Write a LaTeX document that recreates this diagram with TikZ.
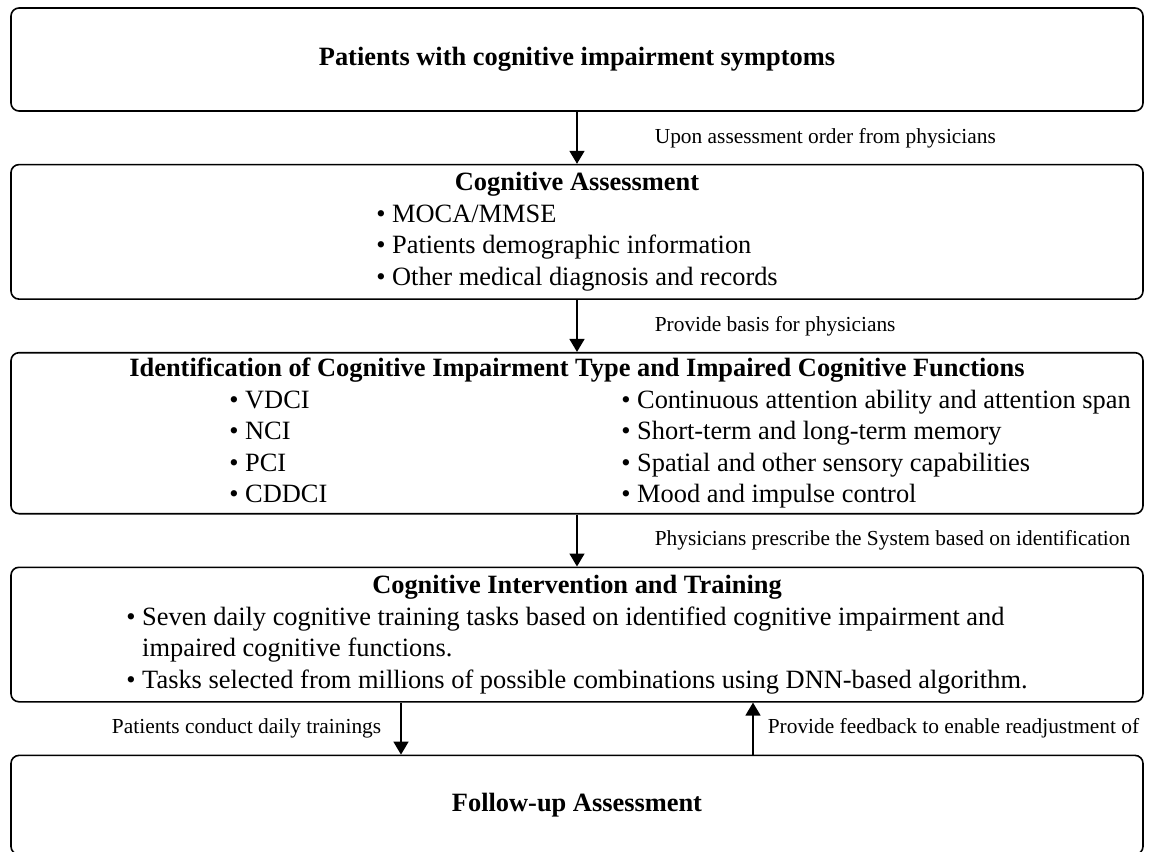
\documentclass[tikz,border=0pt]{standalone}
\usepackage{fontspec}
\setmainfont{Liberation Serif}
\usepackage{tikz}
\usetikzlibrary{shapes, arrows.meta, positioning}
\tikzstyle{block} = [draw, rectangle, rounded corners=4pt, minimum width=566pt, inner xsep=0pt, inner ysep=0pt, font=\fontsize{13.2}{15.75}\selectfont]
\tikzstyle{note} = [inner sep=0pt, font=\fontsize{10.7}{12}\selectfont]
\newcommand{\itm}{\textbullet\ }

\begin{document}
\begin{tikzpicture}[auto,>={Triangle[length=6.5pt,width=7.5pt]}, line width=0.8pt, node distance=26pt]
      \useasboundingbox (-288.5pt,29.75pt) rectangle (286.5pt,-395.75pt);
      \node[block, minimum height=51.5pt] (P) {\textbf{Patients with cognitive impairment symptoms}};
      \node[block, below=of P, minimum height=67.25pt] (CA) {\begin{tabular}{@{}l@{}}
          \multicolumn{1}{@{}c@{}}{\textbf{Cognitive Assessment}}\\
          \itm MOCA/MMSE\\
          \itm Patients demographic information\\
          \itm Other medical diagnosis and records
        \end{tabular}};
      \node[block, below=of CA, minimum height=80.5pt] (ID) {\begin{tabular}{@{\hspace{103pt}}p{196pt}@{}l@{}}
          \multicolumn{2}{@{}c@{}}{\textbf{Identification of Cognitive Impairment Type and Impaired Cognitive Functions}}\\
          \itm VDCI & \itm Continuous attention ability and attention span\\
          \itm NCI & \itm Short-term and long-term memory\\
          \itm PCI & \itm Spatial and other sensory capabilities\\
          \itm CDDCI & \itm Mood and impulse control
        \end{tabular}};
      \node[block, below=of ID, minimum height=67.25pt] (CI) {\begin{tabular}{@{}l@{}}
          \multicolumn{1}{@{}c@{}}{\textbf{Cognitive Intervention and Training}}\\
          \itm Seven daily cognitive training tasks based on identified cognitive impairment and\\
          \phantom{\itm}impaired cognitive functions.\\
          \itm Tasks selected from millions of possible combinations using DNN-based algorithm.
        \end{tabular}};
      \node[block, below=of CI, minimum height=49.5pt] (FA) {\textbf{Follow-up Assessment}};
      \draw[->] (P) -- node[note, right=38.5pt] {Upon assessment order from physicians} (CA);
      \draw[->] (CA) -- node[note, right=38.5pt] {Provide basis for physicians} (ID);
      \draw[->] (ID) -- node[note, right=38.5pt] {Physicians prescribe the System based on identification} (CI);
      \draw[->] ([xshift=-88pt]CI.south) -- node[note, left=9.5pt] {Patients conduct daily trainings} ([xshift=-88pt]FA.north);
      \draw[->] ([xshift=88pt]FA.north) -- node[note, right=7pt] {Provide feedback to enable readjustment of} ([xshift=88pt]CI.south);
    \end{tikzpicture}
\end{document}
